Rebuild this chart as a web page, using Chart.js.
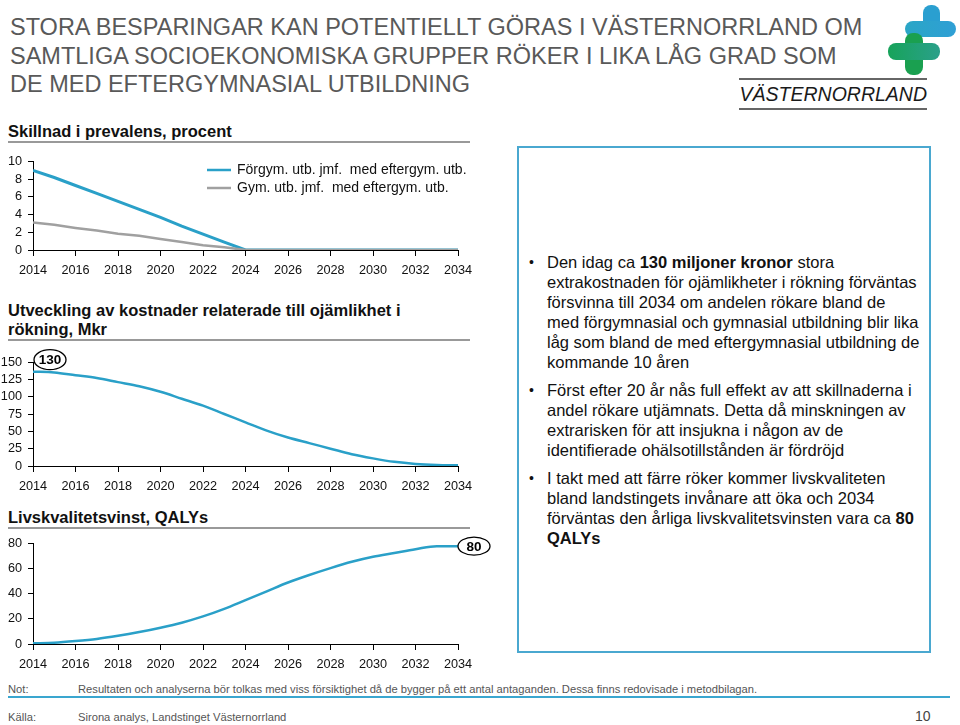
<!DOCTYPE html>
<html>
<head>
<meta charset="utf-8">
<script src="https://cdn.jsdelivr.net/npm/chart.js@4.4.1/dist/chart.umd.min.js"></script>
<style>
  body { margin: 0; background: #fff; font-family: "Liberation Sans", Arial, sans-serif; }
  #page { position: relative; width: 960px; height: 725px; overflow: hidden; }
  .abs { position: absolute; }
  .title { left: 10px; top: 13px; font-size: 23.5px; line-height: 28.5px; color: #595959; white-space: nowrap; }
  .region { left: 739px; top: 78px; width: 188px; border-top: 2px solid #666; border-bottom: 2px solid #666;
    font-style: italic; font-size: 19.5px; color: #1a1a1a; text-align: right; line-height: 28px; height: 28px; white-space: nowrap; }
  .head { left: 8px; width: 462px; font-weight: bold; font-size: 16.5px; color: #111; border-bottom: 2px solid #999; line-height: 19px; }
  .box { left: 517px; top: 146px; width: 410px; height: 503px; border: 2px solid #4aa8d0; }
  .box ul { margin: 0; padding: 0; list-style: none; position: absolute; left: 10px; top: 104px; }
  .box li { position: relative; padding-left: 18px; font-size: 16.5px; line-height: 20px; color: #111; margin-bottom: 8px; white-space: nowrap; }
  .box li:before { content: "\2022"; position: absolute; left: 0; top: 0; font-size: 14px; }
  .foot { font-size: 11.2px; color: #555; white-space: nowrap; }
  canvas { position: absolute; }
  .plus { position: absolute; border-radius: 8px; }
</style>
</head>
<body>
<div id="page">
  <div class="abs title">STORA BESPARINGAR KAN POTENTIELLT GÖRAS I VÄSTERNORRLAND OM<br>SAMTLIGA SOCIOEKONOMISKA GRUPPER RÖKER I LIKA LÅG GRAD SOM<br>DE MED EFTERGYMNASIAL UTBILDNING</div>
  <div class="abs region">VÄSTERNORRLAND</div>

  <!-- logo -->
  <div class="plus" style="left:923px;top:5px;width:17px;height:30px;background:#2a9fd0;"></div>
  <div class="plus" style="left:905px;top:21px;width:51px;height:16px;background:linear-gradient(90deg,#2aa6c6,#2f9fd5);"></div>
  <div class="plus" style="left:905px;top:33px;width:18px;height:42px;background:#1aa050;"></div>
  <div class="plus" style="left:888px;top:43px;width:52px;height:17px;background:linear-gradient(90deg,#17a35a,#2aa08a);"></div>

  <div class="abs head" style="top:122px;">Skillnad i prevalens, procent</div>
  <div class="abs head" style="top:301px;">Utveckling av kostnader relaterade till ojämlikhet i<br>rökning, Mkr</div>
  <div class="abs head" style="top:508px;">Livskvalitetsvinst, QALYs</div>

  <canvas id="c1" style="left:0;top:148px;" width="500" height="132"></canvas>
  <canvas id="c2" style="left:0;top:345px;" width="500" height="151"></canvas>
  <canvas id="c3" style="left:0;top:530px;" width="500" height="144"></canvas>

  <div class="abs box">
    <ul>
      <li>Den idag ca <b>130 miljoner kronor</b> stora<br>extrakostnaden för ojämlikheter i rökning förväntas<br>försvinna till 2034 om andelen rökare bland de<br>med förgymnasial och gymnasial utbildning blir lika<br>låg som bland de med eftergymnasial utbildning de<br>kommande 10 åren</li>
      <li>Först efter 20 år nås full effekt av att skillnaderna i<br>andel rökare utjämnats. Detta då minskningen av<br>extrarisken för att insjukna i någon av de<br>identifierade ohälsotillstånden är fördröjd</li>
      <li>I takt med att färre röker kommer livskvaliteten<br>bland landstingets invånare att öka och 2034<br>förväntas den årliga livskvalitetsvinsten vara ca <b>80<br>QALYs</b></li>
    </ul>
  </div>

  <div class="abs foot" style="left:8px;top:683px;">Not:</div>
  <div class="abs foot" style="left:78px;top:683px;">Resultaten och analyserna bör tolkas med viss försiktighet då de bygger på ett antal antaganden. Dessa finns redovisade i metodbilagan.</div>
  <div class="abs" style="left:8px;top:696px;width:942px;height:0;border-top:2px solid #3aa6cf;"></div>
  <div class="abs foot" style="left:8px;top:711px;">Källa:</div>
  <div class="abs foot" style="left:78px;top:711px;">Sirona analys, Landstinget Västernorrland</div>
  <div class="abs" style="left:915px;top:708px;font-size:14px;color:#444;">10</div>
</div>

<script>
const years = [2014, 2015, 2016, 2017, 2018, 2019, 2020, 2021, 2022, 2023, 2024,
               2025, 2026, 2027, 2028, 2029, 2030, 2031, 2032, 2033, 2034];

// Skillnad i prevalens, procent
const prevLabels = ["Förgym. utb. jmf.  med eftergym. utb.", "Gym. utb. jmf.  med eftergym. utb."];
const prevForgym = [9, 8.2, 7.3, 6.4, 5.5, 4.6, 3.7, 2.7, 1.8, 0.9, 0, 0, 0, 0, 0, 0, 0, 0, 0, 0, 0];
const prevGym = [3.1, 2.85, 2.5, 2.2, 1.85, 1.6, 1.25, 0.9, 0.55, 0.3, 0, 0, 0, 0, 0, 0, 0, 0, 0, 0, 0];

// Kostnader, Mkr
const kostnad = [136, 135, 131, 127, 121, 115, 107, 97, 87, 75, 63, 51, 41, 33, 25, 17, 11, 6, 3, 1.5, 1];
const kostnadNote = "130";

// QALYs
const qaly = [0.5, 1, 2.3, 4, 6.5, 9.5, 13, 17, 22, 28, 35, 42, 49, 55, 60.5, 65.5, 69.5, 72.5, 75.5, 78, 78];
const qalyNote = "80";

const BLUE = "#2aa0c8";
const GREY = "#a0a0a0";
const FONT = { family: "'Liberation Sans', Arial, sans-serif", size: 12.7 };

function pts(vals) {
  return vals.map((v, i) => ({ x: years[i], y: v }));
}

// small legend drawn inside the plot
const lineLegend = {
  id: "lineLegend",
  afterDraw(chart, args, opts) {
    if (!opts.show) return;
    const ctx = chart.ctx;
    ctx.save();
    ctx.font = "14px 'Liberation Sans', Arial, sans-serif";
    ctx.textBaseline = "middle";
    ctx.fillStyle = "#111";
    chart.data.datasets.forEach((ds, i) => {
      const y = opts.y + i * opts.gap;
      ctx.strokeStyle = ds.borderColor;
      ctx.lineWidth = 2.5;
      ctx.beginPath();
      ctx.moveTo(opts.x, y);
      ctx.lineTo(opts.x + 24, y);
      ctx.stroke();
      ctx.fillText(ds.label, opts.x + 30, y);
    });
    ctx.restore();
  }
};

// ellipse call-out next to one point
const callout = {
  id: "callout",
  afterDraw(chart, args, opts) {
    if (!opts.text) return;
    const meta = chart.getDatasetMeta(0);
    const p = meta.data[opts.index];
    const cx = p.x + opts.dx, cy = p.y + opts.dy;
    const ctx = chart.ctx;
    ctx.save();
    ctx.fillStyle = "#fff";
    ctx.strokeStyle = "#000";
    ctx.lineWidth = 1.3;
    ctx.beginPath();
    ctx.ellipse(cx, cy, opts.rx, opts.ry, 0, 0, Math.PI * 2);
    ctx.fill();
    ctx.stroke();
    ctx.fillStyle = "#000";
    ctx.font = "bold 13.5px 'Liberation Sans', Arial, sans-serif";
    ctx.textAlign = "center";
    ctx.textBaseline = "middle";
    ctx.fillText(opts.text, cx, cy + 1);
    ctx.restore();
  }
};

function makeChart(id, datasets, yMax, yStep, padTop, plugOpts) {
  new Chart(document.getElementById(id), {
    type: "line",
    data: { datasets: datasets },
    options: {
      responsive: false,
      animation: false,
      layout: { padding: { top: padTop, right: 42, left: 0, bottom: 0 } },
      elements: { point: { radius: 0 } },
      scales: {
        x: {
          type: "linear", min: 2014, max: 2034,
          afterFit: s => { s.height = 30; },
          border: { color: "#000", width: 1 },
          grid: { drawOnChartArea: false, color: "#000", tickLength: 6 },
          ticks: { stepSize: 2, color: "#111", font: FONT, padding: 7, maxRotation: 0, autoSkip: false,
                   callback: v => String(v) }
        },
        y: {
          min: 0, max: yMax,
          afterFit: s => { s.width = 33; },
          border: { color: "#000", width: 1 },
          grid: { drawOnChartArea: false, color: "#000", tickLength: 5 },
          ticks: { stepSize: yStep, color: "#111", font: FONT, padding: 6, autoSkip: false }
        }
      },
      plugins: Object.assign({ legend: { display: false }, tooltip: { enabled: false } }, plugOpts)
    },
    plugins: [lineLegend, callout]
  });
}

makeChart("c1", [
  { label: prevLabels[0], data: pts(prevForgym), borderColor: BLUE, borderWidth: 3, tension: 0, order: 1 },
  { label: prevLabels[1], data: pts(prevGym), borderColor: GREY, borderWidth: 2.5, tension: 0, order: 0 }
], 10, 2, 7, { lineLegend: { show: true, x: 207, y: 22, gap: 18 } });

makeChart("c2", [
  { label: "Mkr", data: pts(kostnad), borderColor: BLUE, borderWidth: 2.5, cubicInterpolationMode: "monotone" }
], 150, 25, 17, { callout: { text: kostnadNote, index: 0, dx: 17, dy: -12, rx: 16, ry: 10 } });

makeChart("c3", [
  { label: "QALYs", data: pts(qaly), borderColor: BLUE, borderWidth: 2.5, cubicInterpolationMode: "monotone" }
], 80, 20, 12, { callout: { text: qalyNote, index: 20, dx: 16, dy: 0, rx: 16, ry: 9 } });
</script>
</body>
</html>
